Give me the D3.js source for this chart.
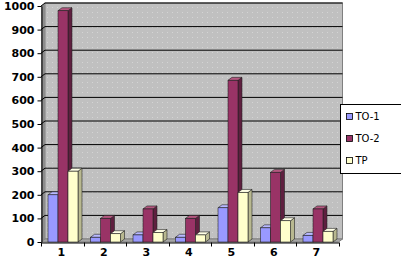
<!DOCTYPE html>
<html>
<head>
<meta charset="utf-8">
<script src="https://cdn.jsdelivr.net/npm/d3@7"></script>
<style>
  body { margin: 0; background: #fff; }
  svg { display: block; font-family: "DejaVu Sans", Verdana, sans-serif; }
</style>
</head>
<body>
<svg width="401" height="262"></svg>
<script>
var svg = d3.select('svg');

var categories = ["1", "2", "3", "4", "5", "6", "7"];
var seriesNames = ["TO-1", "TO-2", "TP"];
var to1 = [200, 20, 30, 20, 145, 60, 28];
var to2 = [980, 100, 140, 100, 685, 295, 140];
var tp = [300, 35, 40, 30, 210, 90, 45];
var yTicks = [0, 100, 200, 300, 400, 500, 600, 700, 800, 900, 1000];

var colors = ["#9999ff", "#993366", "#ffffcc"];
var sideColors = ["#6a6ab8", "#5e1f3f", "#b8b890"];
var topColors = ["#b8b8ff", "#b3577f", "#ffffe6"];

var dx = 4, dy = 3;

// front plane scales
var x = d3.scaleBand().domain(categories).range([41, 338.5]);
var y = d3.scaleLinear().domain([0, 1000]).range([242, 6]);

var inner = d3.scaleBand().domain(seriesNames).range([7, 37]);

var wallL = 41 + dx, wallR = 338.5 + dx;

// dotted pattern
var defs = svg.append('defs');
var pat = defs.append('pattern')
  .attr('id', 'dots').attr('width', 5).attr('height', 5)
  .attr('patternUnits', 'userSpaceOnUse');
pat.append('rect').attr('width', 5).attr('height', 5).attr('fill', '#c0c0c0');
pat.append('rect').attr('x', 2).attr('y', 2).attr('width', 1).attr('height', 1).attr('fill', '#d4d4d4');

// back wall
svg.append('rect')
  .attr('x', wallL).attr('y', y(1000) - dy)
  .attr('width', wallR - wallL).attr('height', y(0) - y(1000))
  .attr('fill', 'url(#dots)')
  .attr('stroke', '#808080').attr('stroke-width', 1);

// left side wall
svg.append('polygon')
  .attr('points', [[41, y(0)], [41, y(1000)], [wallL, y(1000) - dy], [wallL, y(0) - dy]].join(' '))
  .attr('fill', '#8c8c8c');

// floor
svg.append('polygon')
  .attr('points', [[41, y(0)], [wallL, y(0) - dy], [wallR, y(0) - dy], [338.5, y(0)]].join(' '))
  .attr('fill', '#a6a6a6').attr('stroke', '#808080');

// gridlines
svg.selectAll('.grid')
  .data(yTicks.slice(1))
  .enter()
  .append('polyline')
  .attr('class', 'grid')
  .attr('points', function(d){
    return [[41, y(d)], [wallL, y(d) - dy], [wallR, y(d) - dy]].join(' ');
  })
  .attr('fill', 'none')
  .attr('stroke', '#000')
  .attr('stroke-width', 1);

// bars
var data = [];
categories.forEach(function(c, i){
  [to1, to2, tp].forEach(function(arr, s){
    data.push({cat: c, s: s, name: seriesNames[s], v: arr[i]});
  });
});

var bars = svg.selectAll('.bar')
  .data(data)
  .enter()
  .append('g')
  .attr('class', 'bar');

bars.append('polygon')
  .attr('points', function(d){
    var x1 = x(d.cat) + inner(d.name) + inner.bandwidth();
    return [[x1, y(0)], [x1, y(d.v)], [x1 + dx, y(d.v) - dy], [x1 + dx, y(0) - dy]].join(' ');
  })
  .attr('fill', function(d){ return sideColors[d.s]; })
  .attr('stroke', '#222').attr('stroke-width', 0.6);

bars.append('polygon')
  .attr('points', function(d){
    var x0 = x(d.cat) + inner(d.name), x1 = x0 + inner.bandwidth();
    return [[x0, y(d.v)], [x0 + dx, y(d.v) - dy], [x1 + dx, y(d.v) - dy], [x1, y(d.v)]].join(' ');
  })
  .attr('fill', function(d){ return topColors[d.s]; })
  .attr('stroke', '#222').attr('stroke-width', 0.6);

bars.append('rect')
  .attr('x', function(d){ return x(d.cat) + inner(d.name); })
  .attr('y', function(d){ return y(d.v); })
  .attr('width', inner.bandwidth())
  .attr('height', function(d){ return y(0) - y(d.v); })
  .attr('fill', function(d){ return colors[d.s]; })
  .attr('stroke', '#222').attr('stroke-width', 0.6);

// axes
var yAxis = d3.axisLeft(y).tickValues(yTicks).tickFormat(d3.format('d')).tickSize(4).tickSizeOuter(0);
var gy = svg.append('g').attr('transform', 'translate(41.5,0)').call(yAxis);
gy.select('.domain').attr('stroke', '#000');
gy.selectAll('text')
  .attr('font-size', 11).attr('font-weight', 'bold').attr('fill', '#000')
  .attr('font-family', '"DejaVu Sans", Verdana, sans-serif');

var xAxis = d3.axisBottom(x).tickSize(0).tickSizeOuter(0);
var gx = svg.append('g').attr('transform', 'translate(0,242.5)').call(xAxis);
gx.select('.domain').attr('stroke', '#000');
gx.selectAll('text')
  .attr('dy', 10).attr('dx', -1)
  .attr('font-size', 11).attr('font-weight', 'bold').attr('fill', '#000')
  .attr('font-family', '"DejaVu Sans", Verdana, sans-serif');

// boundary ticks between categories
var bounds = categories.map(function(c){ return x(c); }).concat([x.range()[1]]);
gx.selectAll('.btick')
  .data(bounds)
  .enter()
  .append('line')
  .attr('class', 'btick')
  .attr('x1', function(d){ return Math.round(d) + 0.5; })
  .attr('x2', function(d){ return Math.round(d) + 0.5; })
  .attr('y1', 0).attr('y2', 4)
  .attr('stroke', '#000');

// legend
var lg = svg.append('g').attr('transform', 'translate(340.5,104.5)');
lg.append('rect')
  .attr('width', 70).attr('height', 69)
  .attr('fill', '#fff').attr('stroke', '#000');
var items = lg.selectAll('.item')
  .data(seriesNames)
  .enter()
  .append('g')
  .attr('class', 'item')
  .attr('transform', function(d, i){ return 'translate(6,' + (9 + i * 22) + ')'; });
items.append('rect')
  .attr('width', 6).attr('height', 6)
  .attr('fill', function(d, i){ return colors[i]; })
  .attr('stroke', '#000').attr('stroke-width', 0.8);
items.append('text')
  .attr('x', 9).attr('y', 3).attr('dy', '0.35em')
  .attr('font-size', 10).attr('fill', '#000')
  .text(function(d){ return d; });
</script>
</body>
</html>
